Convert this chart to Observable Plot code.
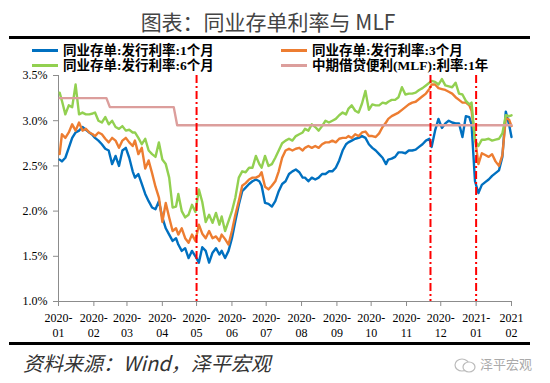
<!DOCTYPE html>
<html><head><meta charset="utf-8">
<script src="https://cdn.jsdelivr.net/npm/d3@7"></script>
<script src="https://cdn.jsdelivr.net/npm/@observablehq/plot@0.6"></script>
<style>
body{margin:0;background:#fff;}
#wrap{position:relative;width:550px;height:383px;overflow:hidden;background:#fff;}
.title{position:absolute;top:11px;left:0;width:536px;text-align:center;font-family:"Noto Sans CJK SC",sans-serif;font-size:21px;color:#444;line-height:1;white-space:nowrap;}
.rule{position:absolute;left:9px;width:521px;height:3px;background:#000;}
.leg{position:absolute;font-family:"Liberation Serif","Noto Sans CJK SC",serif;font-size:13.5px;font-weight:bold;line-height:15px;height:15px;white-space:nowrap;color:#000;}
.leg span{display:inline-block;width:26px;height:3px;vertical-align:middle;margin-right:5px;position:relative;top:-1px;}
.foot{position:absolute;left:23px;top:353px;font-family:"Noto Sans CJK SC",serif;font-style:italic;font-size:20px;color:#333;line-height:1;white-space:nowrap;}
.wm{position:absolute;left:453px;top:356px;font-family:"Noto Sans CJK SC",sans-serif;font-size:13px;color:#aaa;line-height:16px;white-space:nowrap;}
#chart{position:absolute;left:0;top:68px;}
</style></head>
<body>
<div id="wrap">
  <div class="title">图表：同业存单利率与 MLF</div>
  <div class="rule" style="top:36px"></div>
  <div id="legend"></div>
  <div id="chart"></div>
  <div class="rule" style="top:342px"></div>
  <div class="foot">资料来源：Wind，泽平宏观</div>
  <div class="wm"><svg width="24" height="16" style="vertical-align:middle"><ellipse cx="9" cy="8" rx="7" ry="6" fill="none" stroke="#bbb" stroke-width="1.2"/><ellipse cx="16" cy="10" rx="6" ry="5" fill="#fff" stroke="#bbb" stroke-width="1.2"/></svg> 泽平宏观</div>
</div>
<script>
const dates = [
"2020-01-02","2020-01-04","2020-01-07","2020-01-10","2020-01-13","2020-01-16","2020-01-19","2020-01-22","2020-01-25","2020-01-28",
"2020-01-31","2020-02-02","2020-02-05","2020-02-08","2020-02-11","2020-02-14","2020-02-17","2020-02-20","2020-02-23","2020-02-26",
"2020-02-29","2020-03-03","2020-03-06","2020-03-08","2020-03-11","2020-03-14","2020-03-17","2020-03-20","2020-03-23","2020-03-26",
"2020-03-29","2020-04-01","2020-04-04","2020-04-07","2020-04-10","2020-04-13","2020-04-15","2020-04-18","2020-04-21","2020-04-24",
"2020-04-27","2020-04-30","2020-05-03","2020-05-06","2020-05-09","2020-05-12","2020-05-15","2020-05-18","2020-05-21","2020-05-23",
"2020-05-26","2020-05-29","2020-06-01","2020-06-04","2020-06-07","2020-06-10","2020-06-13","2020-06-16","2020-06-19","2020-06-22",
"2020-06-25","2020-06-27","2020-06-30","2020-07-03","2020-07-06","2020-07-09","2020-07-12","2020-07-15","2020-07-18","2020-07-21",
"2020-07-24","2020-07-27","2020-07-30","2020-08-02","2020-08-04","2020-08-07","2020-08-10","2020-08-13","2020-08-16","2020-08-19",
"2020-08-22","2020-08-25","2020-08-28","2020-08-31","2020-09-03","2020-09-06","2020-09-09","2020-09-11","2020-09-14","2020-09-17",
"2020-09-20","2020-09-23","2020-09-26","2020-09-29","2020-10-02","2020-10-05","2020-10-08","2020-10-11","2020-10-14","2020-10-16",
"2020-10-19","2020-10-22","2020-10-25","2020-10-28","2020-10-31","2020-11-03","2020-11-06","2020-11-09","2020-11-12","2020-11-15",
"2020-11-18","2020-11-21","2020-11-23","2020-11-26","2020-11-29","2020-12-02","2020-12-05","2020-12-08","2020-12-11","2020-12-14",
"2020-12-17","2020-12-20","2020-12-23","2020-12-26","2020-12-28","2020-12-31","2021-01-03","2021-01-06","2021-01-09","2021-01-12",
"2021-01-15","2021-01-18","2021-01-21","2021-01-24","2021-01-27","2021-01-30","2021-02-01"];

const rate1M = [
2.57,2.55,2.59,2.70,2.81,2.87,2.89,2.93,2.90,2.87,
2.84,2.81,2.78,2.74,2.69,2.67,2.52,2.61,2.50,2.67,
2.70,2.59,2.44,2.37,2.41,2.30,2.19,2.11,2.04,2.02,
2.11,1.93,1.81,1.74,1.67,1.70,1.63,1.56,1.59,1.48,
1.56,1.50,1.43,1.60,1.56,1.43,1.54,1.59,1.52,1.56,
1.48,1.56,1.70,1.89,2.07,2.22,2.26,2.30,2.33,2.35,
2.33,2.28,2.09,2.08,2.05,2.11,2.22,2.30,2.33,2.41,
2.44,2.46,2.43,2.37,2.37,2.33,2.37,2.35,2.37,2.41,
2.41,2.44,2.44,2.48,2.56,2.67,2.74,2.76,2.78,2.80,
2.81,2.83,2.81,2.74,2.70,2.67,2.63,2.59,2.52,2.57,
2.58,2.60,2.65,2.65,2.64,2.67,2.67,2.68,2.71,2.74,
2.78,2.80,2.71,2.89,3.02,2.92,2.97,3.00,2.98,2.97,
2.97,2.82,3.05,3.04,2.96,2.33,2.20,2.29,2.32,2.35,
2.39,2.42,2.45,2.60,3.10,2.95,2.82];

const rate3M = [
2.63,2.85,2.81,2.87,2.96,2.89,2.98,2.89,2.91,2.87,
2.85,2.83,2.87,2.85,2.80,2.76,2.81,2.78,2.70,2.78,
2.81,2.76,2.72,2.78,2.63,2.70,2.47,2.56,2.42,2.27,
2.15,1.88,2.09,1.93,1.78,1.81,1.74,1.81,1.70,1.65,
1.74,1.67,1.85,1.75,1.70,1.78,1.70,1.72,1.67,1.74,
1.69,1.63,1.78,1.96,2.11,2.28,2.31,2.35,2.37,2.37,
2.39,2.43,2.27,2.24,2.28,2.33,2.44,2.59,2.67,2.69,
2.67,2.69,2.70,2.67,2.70,2.72,2.70,2.72,2.70,2.74,
2.76,2.76,2.78,2.76,2.80,2.81,2.81,2.83,2.81,2.85,
2.83,2.87,2.88,2.83,2.83,2.82,2.86,2.93,2.98,3.02,
3.05,3.07,3.09,3.12,3.15,3.18,3.20,3.21,3.24,3.27,
3.30,3.35,3.40,3.40,3.36,3.35,3.34,3.32,3.30,3.26,
3.23,3.20,3.20,3.17,3.11,2.81,2.52,2.64,2.62,2.60,
2.63,2.55,2.50,2.62,3.03,3.01,2.94];

const rate6M = [
3.31,3.22,3.07,3.17,3.15,3.40,3.07,3.09,3.07,3.07,
3.08,3.09,3.00,2.98,3.04,2.96,3.00,2.93,2.91,2.94,
2.89,2.90,2.87,2.87,2.81,2.74,2.80,2.67,2.63,2.60,
2.76,2.57,2.52,2.37,2.04,2.05,2.19,2.00,1.93,1.96,
2.07,1.99,2.24,2.10,1.88,1.96,1.87,1.98,1.85,1.94,
1.78,1.89,2.00,2.15,2.37,2.44,2.43,2.48,2.48,2.61,
2.52,2.48,2.61,2.50,2.52,2.59,2.67,2.75,2.78,2.80,
2.78,2.83,2.85,2.87,2.91,2.89,2.96,2.93,2.89,2.94,
3.00,2.98,3.00,3.02,3.06,3.09,3.07,3.13,3.17,3.11,
3.09,3.19,3.33,3.12,3.18,3.17,3.17,3.20,3.19,3.21,
3.23,3.23,3.26,3.37,3.29,3.30,3.30,3.31,3.34,3.36,
3.39,3.42,3.44,3.43,3.40,3.46,3.39,3.38,3.37,3.42,
3.30,3.29,3.22,3.18,3.20,2.78,2.72,2.79,2.79,2.80,
2.78,2.79,2.80,2.86,3.06,3.05,3.06];

const mlfDates = ["2020-01-02","2020-02-12","2020-02-15","2020-04-11","2020-04-14","2021-02-01"];
const mlfRates = [3.25,3.25,3.15,3.15,2.95,2.95];

const markerDates = ["2020-05-01","2020-11-22","2021-01-01"];

const xTickDates = ["2020-01-01","2020-02-01","2020-03-01","2020-04-01","2020-05-01","2020-06-01","2020-07-01",
"2020-08-01","2020-09-01","2020-10-01","2020-11-01","2020-12-01","2021-01-01","2021-02-01"];
const xTickLabels = ["2020-\n01","2020-\n02","2020-\n03","2020-\n04","2020-\n05","2020-\n06","2020-\n07",
"2020-\n08","2020-\n09","2020-\n10","2020-\n11","2020-\n12","2021-\n01","2021\n02"];
const yTicks = [1.0,1.5,2.0,2.5,3.0,3.5];

const seriesNames = ["同业存单:发行利率:1个月","同业存单:发行利率:3个月","同业存单:发行利率:6个月","中期借贷便利(MLF):利率:1年"];
const seriesColors = ["#0070c0","#ed7d31","#92d050","#dc9e9c"];

const parse = d3.utcParse("%Y-%m-%d");

// legend
const legPos = [[32,43],[281,43],[32,58],[281,58]];
const legend = document.getElementById("legend");
seriesNames.forEach((n,i)=>{
  const d = document.createElement("div");
  d.className = "leg";
  d.style.left = legPos[i][0]+"px";
  d.style.top = legPos[i][1]+"px";
  d.innerHTML = `<span style="background:${seriesColors[i]}"></span>${n}`;
  legend.appendChild(d);
});

const rows = (vals) => dates.map((d,i)=>({date: parse(d), v: vals[i]}));
const mlf = mlfDates.map((d,i)=>({date: parse(d), v: mlfRates[i]}));
const tickDates = xTickDates.map(parse);
const labelOf = new Map(xTickDates.map((d,i)=>[+parse(d), xTickLabels[i]]));

const chart = Plot.plot({
  width: 550,
  height: 280,
  marginTop: 7,
  marginBottom: 47,
  marginLeft: 58,
  marginRight: 39,
  style: {fontFamily: "'Liberation Serif','Times New Roman',serif", fontSize: "12px", color: "#000", background: "transparent", overflow: "visible"},
  x: {type: "utc", domain: [tickDates[0], tickDates[tickDates.length-1]]},
  y: {domain: [1.0, 3.5]},
  marks: [
    Plot.ruleY([1.0], {stroke: "#8c8c8c", strokeWidth: 1}),
    Plot.ruleX([tickDates[0]], {stroke: "#8c8c8c", strokeWidth: 1}),
    Plot.axisY({ticks: yTicks, tickFormat: d => d.toFixed(1) + "%", tickSize: 5, tickPadding: 6, stroke: "#8c8c8c", fill: "#000", label: null, fontSize: 12}),
    Plot.axisX({ticks: tickDates, tickFormat: d => labelOf.get(+d), tickSize: 5, tickPadding: 6, lineHeight: 1.17, stroke: "#8c8c8c", fill: "#000", label: null, fontSize: 12}),
    Plot.line(rows(rate1M), {x: "date", y: "v", stroke: seriesColors[0], strokeWidth: 2.4, strokeLinejoin: "round"}),
    Plot.line(rows(rate3M), {x: "date", y: "v", stroke: seriesColors[1], strokeWidth: 2.4, strokeLinejoin: "round"}),
    Plot.line(rows(rate6M), {x: "date", y: "v", stroke: seriesColors[2], strokeWidth: 2.4, strokeLinejoin: "round"}),
    Plot.line(mlf, {x: "date", y: "v", stroke: seriesColors[3], strokeWidth: 2.4}),
    Plot.ruleX(markerDates.map(parse), {stroke: "#ff0000", strokeWidth: 2, strokeDasharray: "8,3,2,3"})
  ]
});
document.getElementById("chart").appendChild(chart);
</script>
</body></html>
